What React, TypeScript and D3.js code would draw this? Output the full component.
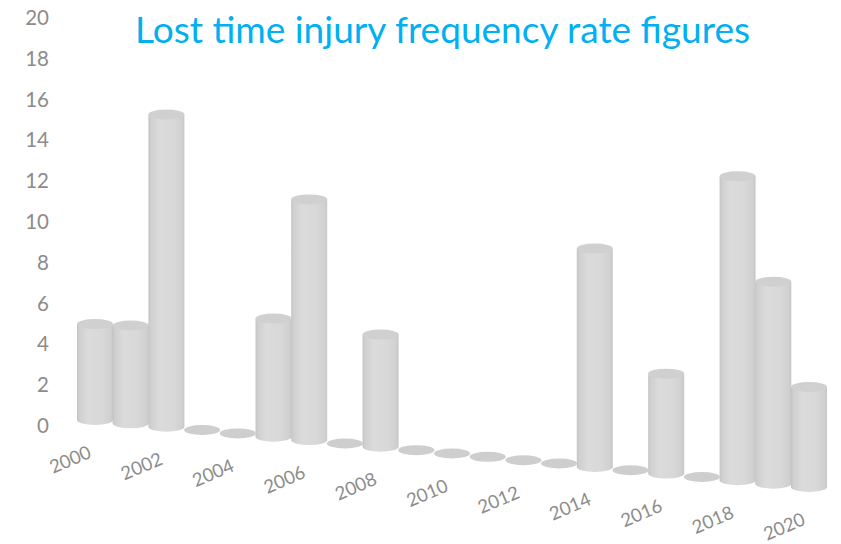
import React from 'react';
import * as d3 from 'd3';

const years = [2000, 2001, 2002, 2003, 2004, 2005, 2006, 2007, 2008, 2009, 2010, 2011, 2012, 2013, 2014, 2015, 2016, 2017, 2018, 2019, 2020];
const values = [4.7, 4.8, 15.3, 0, 0, 5.8, 11.8, 0, 5.5, 0, 0, 0, 0, 0, 10.7, 0, 4.9, 0, 14.9, 9.9, 4.9];
const yTicks = [0, 2, 4, 6, 8, 10, 12, 14, 16, 18, 20];
const xTickYears = [2000, 2002, 2004, 2006, 2008, 2010, 2012, 2014, 2016, 2018, 2020];
const title = 'Lost time injury frequency rate figures';

const W = 841;
const H = 544;

export default function App() {
  const x = d3.scaleLinear().domain([2000, 2020]).range([95, 809]);
  const base = d3.scaleLinear().domain([2000, 2020]).range([420, 487]);
  const axisY = d3.scaleLinear().domain([0, 20]).range([425, 17]);
  const pxPerUnit = axisY(0) - axisY(1);
  const rx = 18;
  const ry = 5;
  const font = "Lato, 'Open Sans', sans-serif";

  return (
    <svg width={W} height={H} style={{ position: 'absolute', left: 0, top: 0, background: '#fff' }}>
      <defs>
        <linearGradient id="cyl" x1="0" x2="1" y1="0" y2="0">
          <stop offset="0" stopColor="#c2c2c2" />
          <stop offset="0.06" stopColor="#cfcfcf" />
          <stop offset="0.3" stopColor="#dbdbdb" />
          <stop offset="0.7" stopColor="#d8d8d8" />
          <stop offset="0.93" stopColor="#d0d0d0" />
          <stop offset="1" stopColor="#c6c6c6" />
        </linearGradient>
      </defs>
      <text x={135} y={43} fontFamily={font} fontSize={37} fill="#00B0F0" textLength={615} lengthAdjust="spacingAndGlyphs">
        {title}
      </text>
      {yTicks.map((t) => (
        <text key={t} x={49} y={axisY(t)} textAnchor="end" dominantBaseline="central" fontFamily={font} fontSize={20.5} fill="#8c8c8c">
          {t}
        </text>
      ))}
      {years.map((yr, i) => {
        const v = values[i];
        const cx = x(yr);
        const b = base(yr);
        if (v === 0) {
          return <ellipse key={yr} cx={cx} cy={b} rx={rx} ry={ry} fill="#cecece" />;
        }
        const t = b - v * pxPerUnit;
        const d = `M${cx - rx},${t} L${cx - rx},${b} A${rx},${ry} 0 0 0 ${cx + rx},${b} L${cx + rx},${t} Z`;
        return (
          <g key={yr}>
            <path d={d} fill="url(#cyl)" />
            <ellipse cx={cx} cy={t} rx={rx} ry={ry} fill="#d0d0d0" />
          </g>
        );
      })}
      {xTickYears.map((yr) => {
        const lx = x(yr) - 25;
        const ly = base(yr) + 39;
        return (
          <text key={yr} x={lx} y={ly} textAnchor="middle" dominantBaseline="central" fontFamily={font} fontSize={18.5} fill="#8c8c8c" transform={`rotate(-23 ${lx} ${ly})`}>
            {yr}
          </text>
        );
      })}
    </svg>
  );
}
